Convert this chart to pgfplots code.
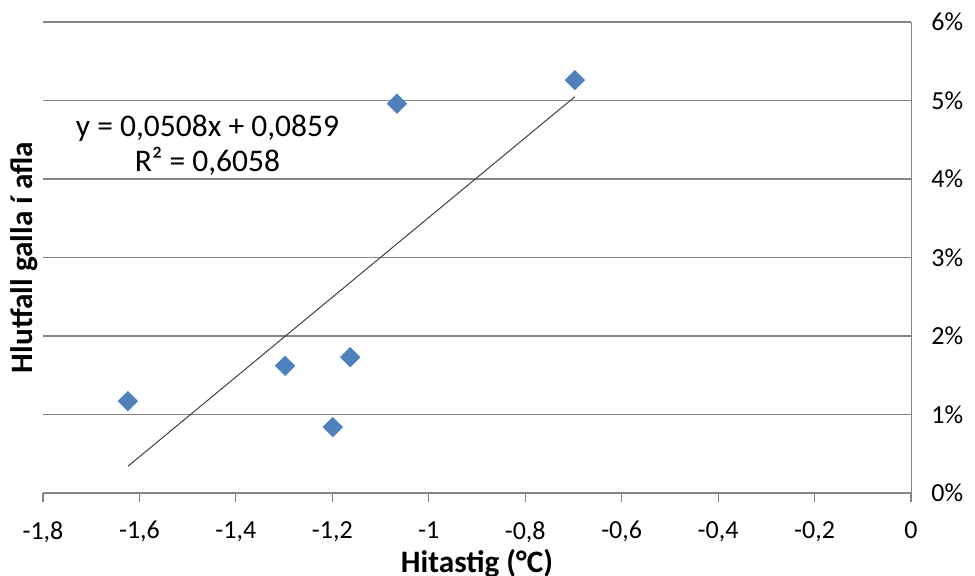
\documentclass[border=0pt]{standalone}
\usepackage{pgfplots}
\pgfplotsset{compat=1.18}
\usepackage{fontspec}
\setmainfont{Carlito}
\definecolor{pt}{HTML}{4F81BD}
\definecolor{gl}{HTML}{868686}
\begin{document}
\begin{tikzpicture}[x=1pt,y=1pt]
\useasboundingbox (-21.5,-41) rectangle (466,246.5);
\begin{axis}[
  at={(0,0)}, anchor=south west,
  scale only axis, width=434pt, height=235.5pt,
  xmin=-1.8, xmax=0, ymin=0, ymax=6,
  xtick={-1.8,-1.6,-1.4,-1.2,-1,-0.8,-0.6,-0.4,-0.2,0},
  ytick={0,1,2,3,4,5,6},
  axis x line*=bottom, axis y line*=right,
  axis line style={gl,-},
  ymajorgrids, grid style={gl, line width=0.6pt},
  xtick align=outside, major tick length=4.5pt,
  xtick style={gl, line width=0.6pt},
  ytick style={draw=none},
  /pgf/number format/assume math mode=true,
  /pgf/number format/use comma,
  xticklabel style={font=\fontsize{13}{15}\selectfont, inner sep=0pt, anchor=north, yshift=-9.5pt},
  yticklabel style={font=\fontsize{13}{15}\selectfont, inner sep=0pt, anchor=west, xshift=10pt},
  yticklabel={\pgfmathprintnumber{\tick}\%},
  xlabel={\textbf{Hitastig (°C)}},
  xlabel style={font=\fontsize{15.6}{18}\selectfont, at={(axis description cs:0.5,0)}, anchor=base, yshift=-39.5pt},
  ylabel={\textbf{Hlutfall galla í afla}},
  ylabel style={font=\fontsize{15.6}{18}\selectfont, at={(axis description cs:0,0.5)}, anchor=base, yshift=5pt},
  clip=false,
]
\addplot[only marks, mark=square*, mark size=3.4pt, mark options={rotate=45, fill=pt, draw=pt}]
  coordinates {(-1.624,1.17) (-1.298,1.62) (-1.199,0.84) (-1.163,1.73) (-1.066,4.96) (-0.697,5.26)};
\addplot[black!75, line width=0.5pt] coordinates {(-1.624,0.34) (-0.697,5.049)};
\node[align=center, font=\fontsize{15.75}{17.5}\selectfont] at (axis cs:-1.459,4.43) {y = 0,0508x + 0,0859\\R² = 0,6058};
\end{axis}
\end{tikzpicture}
\end{document}
